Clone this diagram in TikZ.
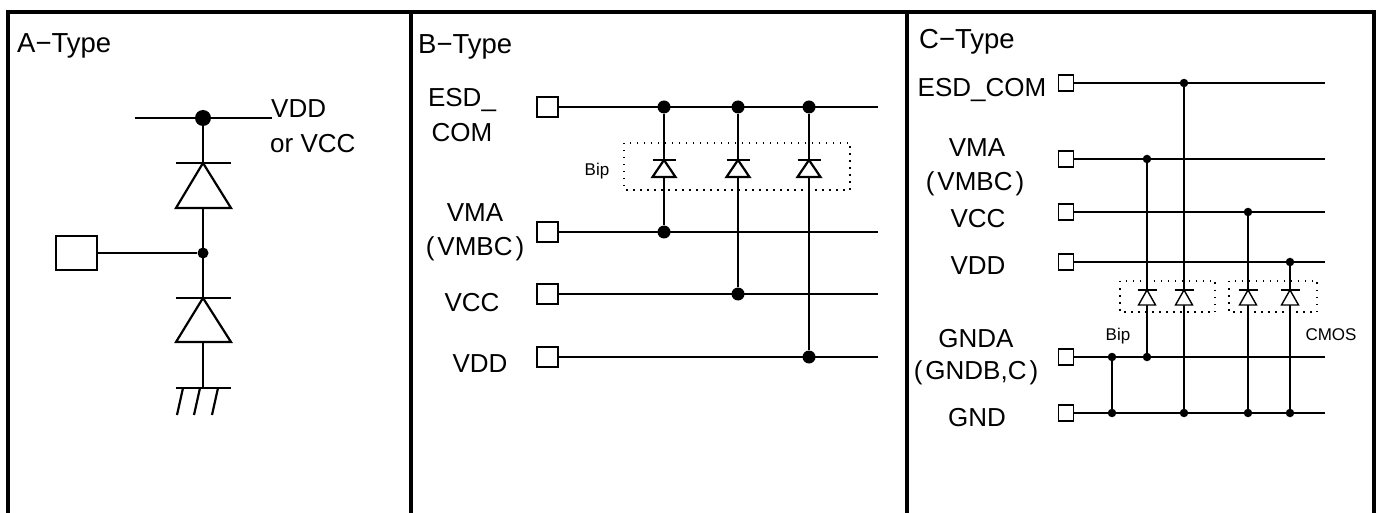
\documentclass[tikz,border=0pt]{standalone}
\usepackage{fontspec}
\setmainfont{Liberation Sans}
\tikzstyle{pad} = [rectangle, draw, fill=white, inner sep=0pt]
\tikzstyle{dot} = [circle, fill=black, inner sep=0pt]
\tikzstyle{heading} = [anchor=base west, inner sep=0pt,
    font=\fontsize{27.5}{33}\selectfont]
\tikzstyle{net} = [anchor=base, inner sep=0pt,
    font=\fontsize{26}{31}\selectfont]
\tikzstyle{tag} = [anchor=base, inner sep=0pt,
    font=\fontsize{17}{20}\selectfont]
\tikzstyle{frame} = [draw, line width=3.5pt]
\tikzstyle{wire} = [draw, line width=2.2pt]
\tikzstyle{cwire} = [draw, line width=1.4pt]
\tikzstyle{group} = [draw, line width=1.5pt, dash pattern=on 1.5pt off 5.5pt]

\begin{document}
\begin{tikzpicture}[x=1pt, y=-1pt]
    \useasboundingbox (0,0) rectangle (1382,513);
    % Draw frame
    \draw[frame] (8,513) -- (8,12) -- (1374,12) -- (1374,513);
    \draw[frame] (411,12) -- (411,513);
    \draw[frame] (907,12) -- (907,513);
    \node[heading] (atitle) at (17,53) {A−Type};
    \node[heading] (btitle) at (418,54) {B−Type};
    \node[heading] (ctitle) at (919,49) {C−Type};

    % A-Type: place nodes
    \coordinate (arl) at (135,118);
    \coordinate (arr) at (272,118);
    \node[dot, minimum size=16pt] (atop) at (203,118) {};
    \node[dot, minimum size=11pt] (amid) at (203,253) {};
    \node[pad, line width=2pt, minimum width=41pt, minimum height=34pt] (apad) at (76,253) {};
    \coordinate (agnd) at (203,388);
    \node[net, anchor=base west] (avdd) at (271,118) {VDD};
    \node[net, anchor=base west] (avcc) at (270,153) {or VCC};
    % A-Type: draw edges
    \path[wire] (arl) -- (arr);
    \path[wire] (atop) -- (agnd);
    \path[wire] (apad) -- (amid);
    \foreach \yt/\yb in {163/208, 298/342} {
        \draw[wire, fill=white] (176,\yb) -- (231,\yb) -- (203,\yt) -- cycle;
        \draw[wire] (176,\yt) -- (231,\yt);
    }
    \draw[wire] (176,388) -- (231,388);
    \foreach \x in {183,200,218} \draw[wire] (\x,388) -- ({\x-6},415);

    % B-Type: place nodes
    \node[net] (besd) at (462,107) {ESD\_};
    \node[net] (bcom) at (462,142) {COM};
    \node[net] (bvma) at (475,222) {VMA};
    \node[net] (bvmbc) at (475,256) {(\kern3pt VMBC\kern3pt)};
    \node[net] (bvcc) at (472,312) {VCC};
    \node[net] (bvdd) at (480,372) {VDD};
    \foreach \n/\y in {1/107, 2/232, 3/294, 4/357} {
        \node[pad, line width=2pt, minimum width=21pt, minimum height=20pt] (bpad\n) at (547,\y) {};
        \coordinate (bend\n) at (878,\y);
        \path[wire] (bpad\n) -- (bend\n);
    }
    \foreach \n/\x/\y in {1/664/107, 2/738/107, 3/809/107, 4/664/232, 5/738/294, 6/809/357}
        \node[dot, minimum size=13pt] (bdot\n) at (\x,\y) {};
    % B-Type: draw edges
    \path[wire] (bdot1) -- (bdot4);
    \path[wire] (bdot2) -- (bdot5);
    \path[wire] (bdot3) -- (bdot6);
    \foreach \x in {664,738,809} {
        \draw[wire, fill=white] ({\x-11.5},177) -- ({\x+11.5},177) -- (\x,160) -- cycle;
        \draw[wire] ({\x-11.5},160) -- ({\x+11.5},160);
    }
    \draw[group] (624,143) rectangle (850,190);
    \node[tag] (bbip) at (597,176) {Bip};

    % C-Type: place nodes
    \node[net] (cesd) at (982,97) {ESD\_COM};
    \node[net] (cvma) at (977,157) {VMA};
    \node[net] (cvmbc) at (975,191) {(\kern3pt VMBC\kern3pt)};
    \node[net] (cvcc) at (978,228) {VCC};
    \node[net] (cvdd) at (978,275) {VDD};
    \node[net] (cgnda) at (976,347) {GNDA};
    \node[net] (cgndb) at (976,379) {(\kern3pt GNDB,C\kern3pt)};
    \node[net] (cgnd) at (977,426) {GND};
    \foreach \n/\y in {1/83, 2/159, 3/212, 4/262, 5/357, 6/413} {
        \node[pad, line width=1.3pt, minimum width=15pt, minimum height=16pt] (cpad\n) at (1066,\y) {};
        \coordinate (cend\n) at (1325,\y);
        \path[cwire] (cpad\n) -- (cend\n);
    }
    \foreach \n/\x/\y in {1/1184/83, 2/1147/159, 3/1248/212, 4/1290/262, 5/1112/357,
        6/1147/357, 7/1112/413, 8/1184/413, 9/1248/413, 10/1290/413}
        \node[dot, minimum size=8.5pt] (cdot\n) at (\x,\y) {};
    % C-Type: draw edges
    \path[cwire] (cdot5) -- (cdot7);
    \path[cwire] (cdot2) -- (cdot6);
    \path[cwire] (cdot1) -- (cdot8);
    \path[cwire] (cdot3) -- (cdot9);
    \path[cwire] (cdot4) -- (cdot10);
    \foreach \x in {1147,1184,1248,1290} {
        \draw[cwire, fill=white] ({\x-8.5},305) -- ({\x+8.5},305) -- (\x,290) -- cycle;
        \draw[cwire] ({\x-9.5},290) -- ({\x+9.5},290);
    }
    \draw[group] (1120,281) rectangle (1215,312);
    \draw[group] (1229,281) rectangle (1317,312);
    \node[tag] (cbip) at (1118,340) {Bip};
    \node[tag] (ccmos) at (1331,340) {CMOS};
\end{tikzpicture}
\end{document}
